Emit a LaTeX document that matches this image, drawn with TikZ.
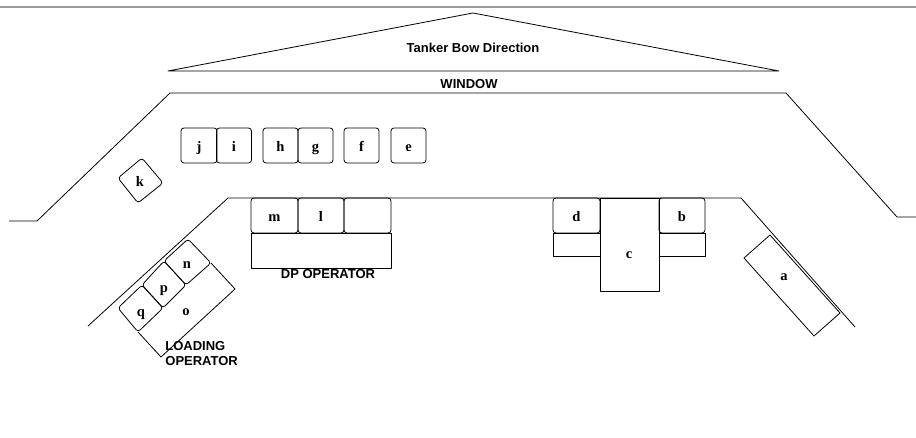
\documentclass[tikz,border=0pt]{standalone}
\usepackage{fontspec}
\setmainfont{Liberation Serif}
\setsansfont{Liberation Sans}
\tikzset{
  keybox/.style={draw, rounded corners=3pt, minimum width=35pt, minimum height=35pt, inner sep=0pt, text height=11.5pt, text depth=0pt, font=\rmfamily\bfseries\fontsize{14.5}{15}\selectfont},
  keytext/.style={inner sep=0pt, text height=11.5pt, text depth=0pt, font=\rmfamily\bfseries\fontsize{14.5}{15}\selectfont},
  areatext/.style={inner sep=0pt, font=\sffamily\bfseries\fontsize{13}{15}\selectfont}
}
\begin{document}
\begin{tikzpicture}[x=1pt, y=-1pt, line width=0.8pt, line join=round]
  \useasboundingbox (0,0) rectangle (916,438);

  % top edge of the page
  \draw[gray!80, line width=1.1pt] (0,7) -- (916,7);

  % bow
  \draw (168,71) -- (473,13) -- (779,71) -- cycle;
  \node[areatext] (bow) at (473,48) {Tanker Bow Direction};

  % bridge outline
  \draw (9,221) -- (37,221) -- (170,93) -- (786,93) -- (897,217) -- (916,217);
  \draw (88,326) -- (228,198) -- (741,198) -- (855,327);
  \node[areatext] (window) at (469,84) {WINDOW};

  % forward row
  \node[keybox, minimum width=36pt] (j) at (199,145.5) {j};
  \node[keybox] (i) at (234,145.5) {i};
  \node[keybox] (h) at (280.5,145.5) {h};
  \node[keybox] (g) at (315.5,145.5) {g};
  \node[keybox] (f) at (361.5,145.5) {f};
  \node[keybox] (e) at (408.5,145.5) {e};

  % corner console
  \draw[rounded corners=3pt] (142,158) -- (163,183) -- (138,203) -- (118,178) -- cycle;
  \node[keytext] (k) at (140,181) {k};

  % DP desk
  \draw (251,233) rectangle (391,268);
  \node[keybox, minimum width=47pt] (m) at (274.5,215.5) {m};
  \node[keybox, minimum width=46pt] (l) at (321,215.5) {l};
  \node[keybox, minimum width=47pt] (blank) at (367.5,215.5) {};
  \node[areatext] (dp) at (328,274) {DP OPERATOR};

  % centre desk
  \draw (553,233) rectangle (600,256);
  \draw (659,233) rectangle (705,256);
  \node[draw, minimum width=59pt, minimum height=93pt, inner sep=0pt] (c) at (629.5,244.5) {};
  \node[keytext] at (629,253) {c};
  \node[keybox, minimum width=47pt] (d) at (576.5,215.5) {d};
  \node[keybox, minimum width=46pt] (b) at (682,215.5) {b};

  % right desk
  \draw (770,235) -- (744,258) -- (814,336) -- (840,313) -- cycle;
  \node[keytext] (a) at (784,275) {a};

  % loading desk
  \draw (211,263) -- (235,289) -- (161,357) -- (138,332);
  \draw[rounded corners=3pt] (188,239) -- (211,263) -- (186,285) -- (164,261) -- cycle;
  \draw[rounded corners=3pt] (164,261) -- (186,285) -- (163,308) -- (142,285) -- cycle;
  \draw[rounded corners=3pt] (142,285) -- (163,308) -- (138,332) -- (118,308) -- cycle;
  \node[keytext] (n) at (187,263) {n};
  \node[keytext] (p) at (164,287) {p};
  \node[keytext] (q) at (141,311) {q};
  \node[keytext] (o) at (186,310) {o};
  \node[areatext, align=left, anchor=north west] (loading) at (165,341) {LOADING\\OPERATOR};
\end{tikzpicture}
\end{document}
